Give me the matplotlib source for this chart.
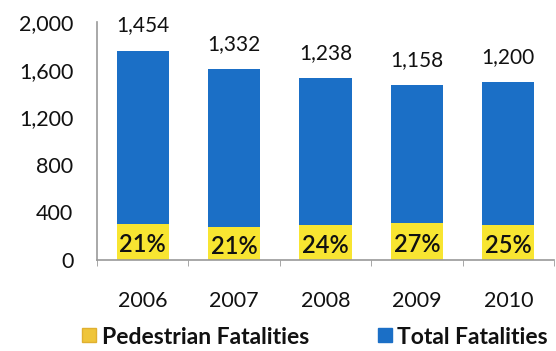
import matplotlib
matplotlib.use("Agg")
import matplotlib.pyplot as plt
from matplotlib.lines import Line2D
import numpy as np

years = ["2006", "2007", "2008", "2009", "2010"]
total_fatalities = [1454, 1332, 1238, 1158, 1200]
pedestrian_fatalities = [306, 276, 293, 310, 296]
pedestrian_pct_labels = ["21%", "21%", "24%", "27%", "25%"]
y_ticks = [0, 400, 800, 1200, 1600, 2000]

plt.rcParams['font.family'] = ['Lato', 'DejaVu Sans']

BLUE = '#1B6FC6'
YELLOW = '#F8E531'
TXT = '#111111'

fig = plt.figure(figsize=(5.56, 3.51), dpi=100)
ax = fig.add_axes([97/556, 1 - 260/351, (554 - 97)/556, (260 - 22)/351])

x = np.arange(len(years))
w = 0.57
ax.bar(x, pedestrian_fatalities, width=w, color=YELLOW, edgecolor='none', zorder=2)
ax.bar(x, total_fatalities, width=w, bottom=pedestrian_fatalities, color=BLUE,
       edgecolor='none', zorder=2)

for xi, t, p, lab in zip(x, total_fatalities, pedestrian_fatalities, pedestrian_pct_labels):
    ax.annotate(f"{t:,}", (xi, t + p), xytext=(0, 18), textcoords='offset points',
                ha='center', va='center', fontsize=15, color=TXT)
    ax.annotate(lab, (xi, p / 2), xytext=(0, -2), textcoords='offset points',
                ha='center', va='center', fontsize=17, color=TXT, fontweight='semibold')

ax.set_xlim(-0.5, len(years) - 0.5)
ax.set_ylim(0, 2000)
ax.set_yticks(y_ticks)
ax.set_yticklabels([f"{v:,}" for v in y_ticks], fontsize=15.5, color=TXT)
ax.set_xticks(x)
ax.set_xticklabels(years, fontsize=15.5, color=TXT)
ax.set_xticks(np.arange(len(years) + 1) - 0.5, minor=True)
ax.tick_params(axis='x', which='major', length=0, pad=22)
ax.tick_params(axis='x', which='minor', length=4, color='#999999', direction='out')
ax.tick_params(axis='y', length=0, pad=17)

for s in ['top', 'right']:
    ax.spines[s].set_visible(False)
for s in ['left', 'bottom']:
    ax.spines[s].set_color('#999999')
    ax.spines[s].set_linewidth(1.2)

handles = [Line2D([], [], marker='s', linestyle='none', markersize=10,
                  markerfacecolor='#EFC53A', markeredgecolor='#E0B030'),
           Line2D([], [], marker='s', linestyle='none', markersize=10,
                  markerfacecolor=BLUE, markeredgecolor=BLUE)]
fig.legend(handles, ["Pedestrian Fatalities", "Total Fatalities"],
           loc='center', bbox_to_anchor=(314/556, 1 - 337/351), ncol=2,
           frameon=False, prop={'size': 16.5, 'weight': 'bold'},
           handletextpad=0.15, columnspacing=2.9,
           handlelength=0.8, labelcolor=TXT)

fig.savefig("out.png", dpi=100)
